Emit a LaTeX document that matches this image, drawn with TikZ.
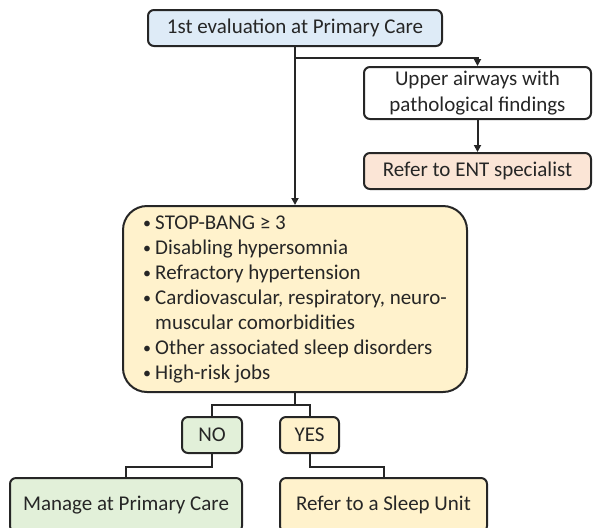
\documentclass[tikz,border=0pt]{standalone}
\usepackage{fontspec}
\setmainfont{Carlito}
\usetikzlibrary{arrows.meta}
\usetikzlibrary{positioning}

\definecolor{evalblue}{HTML}{DEEBF7}
\definecolor{entpeach}{HTML}{FBE5D6}
\definecolor{crityellow}{HTML}{FFF2CC}
\definecolor{nogreen}{HTML}{E2F0D9}
\definecolor{inkgray}{HTML}{262626}

\newcommand{\bul}{\makebox[6pt][l]{\raisebox{0.5pt}{\footnotesize\textbullet}}}

\begin{document}
\begin{tikzpicture}[x=0.5pt,y=-0.5pt]
	\useasboundingbox (0,0) rectangle (593,527);

	\begin{scope}[every node/.style={draw=inkgray,line width=1pt,rounded corners=3pt,
			text=inkgray,inner sep=0pt,align=center,font=\fontsize{10.5}{13}\selectfont}]
		\node [fill=evalblue,minimum width=147pt,minimum height=18pt] (eval) at (295,28) {1st evaluation at Primary Care};
		\node [fill=white,minimum width=113.5pt,minimum height=26pt] (airways) at (477.5,93) {Upper airways with\\pathological findings};
		\node [fill=entpeach,minimum width=113.5pt,minimum height=18pt] (ent) at (477.5,171) {Refer to ENT specialist};
		\node [fill=crityellow,rounded corners=12pt,minimum width=172pt,minimum height=93pt,
			align=left,font=\fontsize{10.5}{12.5}\selectfont] (criteria) at (295,299) {%
			\bul STOP-BANG ≥ 3\\
			\bul Disabling hypersomnia\\
			\bul Refractory hypertension\\
			\bul Cardiovascular, respiratory, neuro-\\
			\hspace*{6pt}muscular comorbidities\\
			\bul Other associated sleep disorders\\
			\bul High-risk jobs};
		\node [fill=nogreen,minimum width=30pt,minimum height=18pt] (no) at (212,435) {NO};
		\node [fill=crityellow,minimum width=29.5pt,minimum height=18pt] (yes) at (309.5,435) {YES};
		\node [fill=nogreen,minimum width=116pt,minimum height=27pt] (manage) at (126,505) {Manage at Primary Care};
		\node [fill=crityellow,minimum width=103.5pt,minimum height=27pt] (sleep) at (383.5,505) {Refer to a Sleep Unit};
	\end{scope}

	\begin{scope}[>={Triangle[length=3.5pt,width=3.5pt]},line width=1pt,draw=inkgray]
		\coordinate (split) at (295,58);
		\draw [->] (eval.south) -- (criteria.north);
		\draw [->] (split) -| (airways.north);
		\draw [->] (airways.south) -- (ent.north);
		\draw (criteria.south) -- ++(0,12) -| (no.north);
		\draw (criteria.south) -- ++(0,12) -| (yes.north);
		\draw (no.south) -- ++(0,13) -| (manage.north);
		\draw (yes.south) -- ++(0,13) -| (sleep.north);
	\end{scope}
\end{tikzpicture}
\end{document}
